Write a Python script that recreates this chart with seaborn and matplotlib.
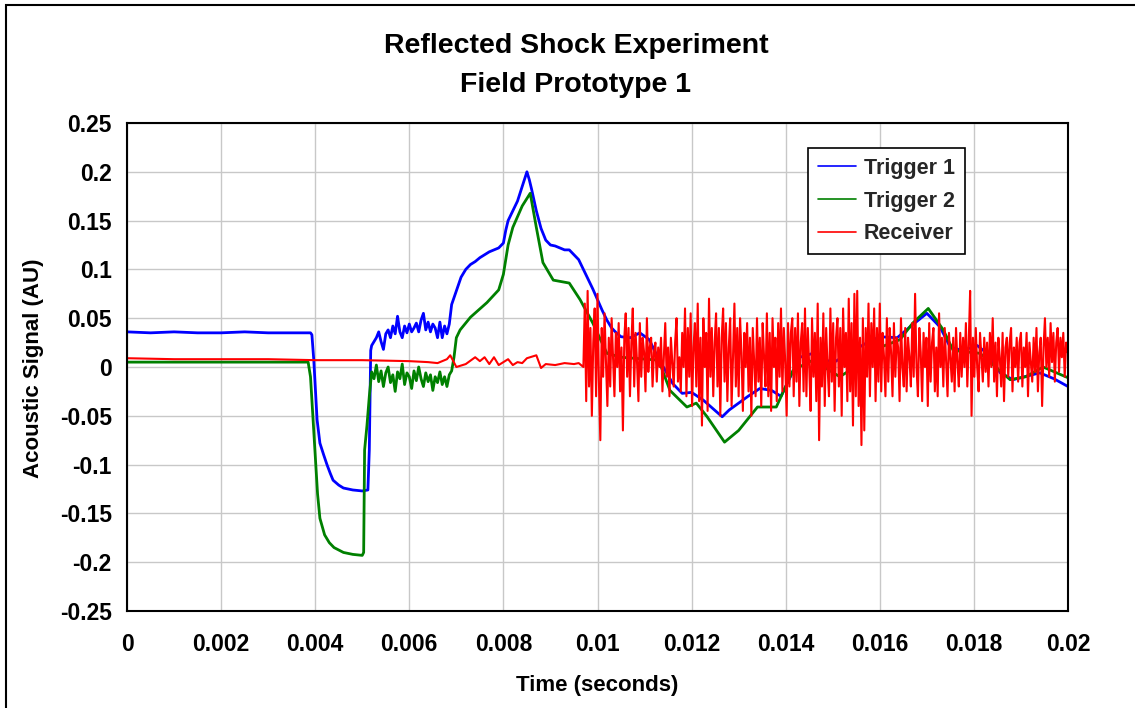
import numpy as np
import pandas as pd
import matplotlib
matplotlib.use("Agg")
import matplotlib.pyplot as plt
from matplotlib.patches import Rectangle
import seaborn as sns

# ---------------- data ----------------
title_lines = ["Reflected Shock Experiment", "Field Prototype 1"]
series_names = ["Trigger 1", "Trigger 2", "Receiver"]
x_ticks = [0, 0.002, 0.004, 0.006, 0.008, 0.01, 0.012, 0.014, 0.016, 0.018, 0.02]
x_tick_labels = ["0", "0.002", "0.004", "0.006", "0.008", "0.01", "0.012",
                 "0.014", "0.016", "0.018", "0.02"]
y_ticks = [0.25, 0.2, 0.15, 0.1, 0.05, 0, -0.05, -0.1, -0.15, -0.2, -0.25]
y_tick_labels = ["0.25", "0.2", "0.15", "0.1", "0.05", "0", "-0.05", "-0.1",
                 "-0.15", "-0.2", "-0.25"]

# Trigger 1 (blue)
t1_a = [0, 0.0005, 0.001, 0.0015, 0.002, 0.0025, 0.003, 0.0035, 0.0039,
        0.00393, 0.00397, 0.00404, 0.0041, 0.00418, 0.00425, 0.00432, 0.00438,
        0.0045, 0.0046, 0.0048, 0.0050, 0.00512, 0.00515, 0.00518, 0.0052]
v1_a = [0.036, 0.035, 0.036, 0.035, 0.035, 0.036, 0.035, 0.035, 0.035,
        0.033, 0.007, -0.054, -0.078, -0.09, -0.1, -0.109, -0.116,
        -0.121, -0.124, -0.126, -0.127, -0.126, -0.085, 0.017, 0.022]
t1_noise_start, t1_noise_stop = 0.0053, 0.00685
v1_noise = [0.030, 0.036, 0.026, 0.018, 0.034, 0.038, 0.030, 0.042, 0.034, 0.052,
            0.036, 0.030, 0.042, 0.035, 0.044, 0.036, 0.040, 0.045, 0.036, 0.048,
            0.055, 0.038, 0.046, 0.036, 0.044, 0.040, 0.030, 0.046, 0.030, 0.042,
            0.034, 0.044]
t1_b = [0.0069, 0.0070, 0.0071, 0.0072, 0.0073, 0.0074, 0.0075, 0.0076, 0.0077,
        0.0078, 0.0079, 0.0080, 0.00805, 0.0081, 0.0082, 0.0083, 0.0084, 0.0085,
        0.00855, 0.0086, 0.0087, 0.0088, 0.0089, 0.0090, 0.0091, 0.0092, 0.0093,
        0.0094, 0.0095, 0.0096, 0.0097, 0.0098, 0.0099, 0.0100, 0.0101, 0.0102,
        0.0103, 0.0104, 0.0105, 0.0107, 0.0109, 0.0111, 0.0113, 0.0114, 0.0116,
        0.0118, 0.0120, 0.01225, 0.01265, 0.0128, 0.0132, 0.01345, 0.0137, 0.0139,
        0.0141, 0.0143, 0.01458, 0.0150, 0.0152, 0.01573, 0.0160, 0.01637,
        0.01664, 0.0170, 0.01728, 0.0175, 0.01777, 0.01807, 0.01828, 0.01856,
        0.01883, 0.0194, 0.0197, 0.0200]
v1_b = [0.064, 0.078, 0.092, 0.100, 0.105, 0.108, 0.112, 0.115, 0.118,
        0.120, 0.122, 0.127, 0.140, 0.150, 0.160, 0.170, 0.185, 0.200,
        0.192, 0.182, 0.160, 0.142, 0.130, 0.125, 0.124, 0.122, 0.120,
        0.120, 0.115, 0.110, 0.100, 0.090, 0.080, 0.069, 0.058, 0.048,
        0.040, 0.035, 0.031, 0.030, 0.035, 0.028, 0.008, 0.000, -0.017,
        -0.027, -0.026, -0.034, -0.051, -0.044, -0.030, -0.022, -0.024, -0.030,
        -0.010, 0.010, 0.014, 0.004, 0.010, 0.025, 0.031, 0.030,
        0.041, 0.055, 0.041, 0.020, 0.017, 0.022, 0.014, -0.006,
        -0.013, -0.006, -0.012, -0.020]

# Trigger 2 (green)
t2_a = [0, 0.0005, 0.001, 0.0015, 0.002, 0.0025, 0.003, 0.0035, 0.00385,
        0.0039, 0.00395, 0.0040, 0.00405, 0.0041, 0.0042, 0.0043, 0.0044,
        0.0046, 0.0048, 0.0050, 0.00503, 0.00505, 0.0051, 0.00515]
v2_a = [0.005, 0.005, 0.005, 0.005, 0.005, 0.005, 0.005, 0.005, 0.005,
        -0.01, -0.05, -0.09, -0.13, -0.155, -0.172, -0.18, -0.185,
        -0.19, -0.192, -0.193, -0.19, -0.085, -0.06, -0.03]
t2_noise_start, t2_noise_stop = 0.0052, 0.0069
v2_noise = [-0.005, -0.012, 0.002, -0.015, -0.004, -0.020, -0.006, 0.000, -0.016,
            -0.008, -0.025, -0.005, -0.012, 0.003, -0.018, -0.006, -0.010, -0.022,
            -0.004, -0.014, 0.000, -0.012, -0.020, -0.006, -0.015, -0.008, -0.024,
            -0.010, -0.016, -0.005, -0.018, -0.010, -0.020, -0.008, -0.004]
t2_b = [0.00695, 0.0070, 0.00708, 0.0073, 0.00765, 0.0079, 0.0080, 0.0081,
        0.0082, 0.0084, 0.00857, 0.0087, 0.00884, 0.00906, 0.0094, 0.00963,
        0.0099, 0.0102, 0.0105, 0.0113, 0.01154, 0.0119, 0.0121, 0.01233,
        0.0127, 0.0130, 0.0134, 0.0138, 0.01416, 0.01458, 0.01515, 0.0156,
        0.0160, 0.01643, 0.0167, 0.01703, 0.01735, 0.01756, 0.01813, 0.01877,
        0.0191, 0.01947, 0.0200]
v2_b = [0.010, 0.030, 0.038, 0.051, 0.066, 0.079, 0.095, 0.125,
        0.143, 0.165, 0.178, 0.143, 0.107, 0.089, 0.086, 0.069,
        0.045, 0.014, 0.010, 0.007, -0.024, -0.041, -0.037, -0.051,
        -0.077, -0.065, -0.041, -0.041, -0.003, 0.007, -0.010, 0.004,
        0.020, 0.028, 0.045, 0.060, 0.038, 0.017, 0.014, -0.013,
        -0.010, 0.000, -0.011]

# Receiver (red)
t3_a = [0, 0.001, 0.002, 0.003, 0.004, 0.005, 0.006, 0.0064, 0.0066, 0.0068,
        0.00687, 0.0070, 0.0072, 0.0074, 0.0075, 0.0076, 0.0077, 0.0078, 0.0079,
        0.0080, 0.0081, 0.0082, 0.0083, 0.0084, 0.0085, 0.0087, 0.0088, 0.0089,
        0.0091, 0.0093, 0.0095, 0.0096]
v3_a = [0.009, 0.008, 0.008, 0.008, 0.007, 0.007, 0.006, 0.005, 0.004, 0.008,
        0.012, 0.000, 0.003, 0.010, 0.006, 0.010, 0.003, 0.010, 0.002,
        0.005, 0.008, 0.002, 0.005, 0.004, 0.009, 0.012, -0.001, 0.003,
        0.002, 0.004, 0.003, 0.004]
t3_noise_start, t3_noise_stop = 0.0097, 0.01999
v3_noise = [
    0.000, 0.065, -0.035, 0.078, -0.020, 0.040, -0.050, 0.025, 0.060, -0.030, 0.075, -0.015,
    -0.075, 0.040, -0.010, 0.055, 0.005, -0.040, 0.030, -0.020, 0.050, 0.010, -0.030, 0.035,
    0.000, 0.045, -0.025, 0.020, -0.065, 0.030, 0.055, -0.010, 0.040, -0.030, 0.025, 0.060,
    -0.020, 0.035, 0.005, -0.035, 0.045, -0.010, 0.030, 0.015, -0.025, 0.050, -0.005, 0.020,
    0.030, -0.020, 0.015, 0.025, -0.015, 0.020, 0.000, 0.030, -0.025, 0.010, 0.045, -0.010,
    0.020, -0.030, 0.030, 0.005, -0.020, 0.025, 0.050, -0.015, 0.010, -0.025, 0.035, 0.000,
    0.060, -0.030, 0.040, -0.010, 0.055, -0.040, 0.020, 0.045, -0.020, 0.065, -0.035, 0.030,
    -0.060, 0.050, 0.000, 0.035, -0.045, 0.070, -0.010, 0.040, -0.030, 0.025, 0.055, -0.020,
    0.040, -0.050, 0.030, 0.060, -0.015, 0.045, -0.035, 0.020, 0.050, -0.040, 0.010, 0.065,
    -0.020, 0.040, -0.030, 0.050, 0.015, -0.045, 0.035, 0.000, 0.045, -0.025, 0.030, -0.050,
    0.040, 0.005, -0.030, 0.050, -0.015, 0.030, -0.040, 0.045, 0.010, -0.020, 0.055, -0.030,
    0.035, -0.045, 0.050, 0.000, 0.030, -0.035, 0.045, -0.010, 0.060, -0.025, 0.040, 0.005,
    -0.050, 0.045, -0.020, 0.035, 0.050, -0.030, 0.040, -0.015, 0.055, -0.040, 0.025, 0.045,
    -0.025, 0.060, -0.030, 0.040, 0.000, -0.045, 0.050, -0.010, 0.035, -0.035, 0.065, -0.075,
    0.030, -0.020, 0.055, -0.040, 0.040, 0.000, -0.030, 0.060, -0.015, 0.045, -0.045, 0.030,
    0.050, -0.020, 0.040, -0.050, 0.060, 0.000, 0.035, -0.035, 0.070, -0.025, 0.045, -0.060,
    0.075, -0.030, 0.078, -0.040, 0.030, -0.080, 0.050, -0.065, 0.040, -0.010, 0.065, -0.030,
    0.045, 0.000, 0.060, -0.035, 0.040, -0.015, 0.065, -0.025, 0.035, 0.010, -0.030, 0.050,
    -0.015, 0.040, 0.015, -0.030, 0.045, -0.010, 0.030, 0.020, -0.035, 0.050, 0.000, -0.020,
    0.040, -0.025, 0.030, 0.010, -0.020, 0.045, -0.010, 0.075, 0.000, -0.030, 0.040, 0.015,
    -0.035, 0.035, 0.000, 0.030, -0.040, 0.045, -0.015, 0.025, 0.040, -0.025, 0.020, -0.030,
    0.055, 0.000, 0.030, -0.020, 0.040, 0.005, -0.030, 0.035, 0.010, -0.015, 0.030, -0.025,
    0.040, 0.005, -0.020, 0.035, -0.010, 0.030, 0.000, 0.045, -0.020, 0.025, 0.078, -0.050,
    0.030, -0.010, 0.040, 0.000, -0.025, 0.035, 0.010, -0.015, 0.030, -0.005, 0.025, -0.020,
    0.035, 0.000, 0.050, -0.015, 0.025, -0.030, 0.030, 0.010, -0.020, 0.035, -0.035, 0.020,
    0.030, -0.010, 0.025, 0.040, -0.025, 0.020, 0.000, 0.030, -0.015, 0.025, 0.035, -0.020,
    0.020, 0.000, 0.035, -0.030, 0.025, 0.005, -0.015, 0.030, -0.005, 0.040, -0.025, 0.015,
    0.030, -0.040, 0.020, 0.050, 0.000, 0.030, -0.010, 0.045, 0.005, 0.035, -0.015, 0.025,
    0.040, -0.005, 0.030, 0.010, 0.035, -0.010, 0.025, 0.015]

# ---------------- assemble series ----------------
def build(ta, va, start, stop, vn, tb, vb):
    tn = np.linspace(start, stop, len(vn))
    t = np.concatenate([ta, tn, tb])
    v = np.concatenate([va, vn, vb])
    return t, v

t1, v1 = build(t1_a, v1_a, t1_noise_start, t1_noise_stop, v1_noise, t1_b, v1_b)
t2, v2 = build(t2_a, v2_a, t2_noise_start, t2_noise_stop, v2_noise, t2_b, v2_b)
t3, v3 = build(t3_a, v3_a, t3_noise_start, t3_noise_stop, v3_noise, [], [])

frames = [pd.DataFrame({"t": t1, "v": v1, "s": series_names[0]}),
          pd.DataFrame({"t": t2, "v": v2, "s": series_names[1]}),
          pd.DataFrame({"t": t3, "v": v3, "s": series_names[2]})]
colors = ["#0000FF", "#008000", "#FF0000"]
widths = [2.0, 2.0, 1.5]

# ---------------- style ----------------
sns.set_theme(style="whitegrid")
plt.rcParams["font.family"] = ["Liberation Sans", "DejaVu Sans"]
plt.rcParams["font.weight"] = "bold"

W, H = 1135, 708
fig = plt.figure(figsize=(W / 100, H / 100), dpi=100)
fig.patch.set_facecolor("white")
L, R, T, B = 127, 1068, 123, 611
ax = fig.add_axes([L / W, 1 - B / H, (R - L) / W, (B - T) / H])
ax.set_facecolor("white")

for df, c, lw in zip(frames, colors, widths):
    sns.lineplot(data=df, x="t", y="v", color=c, linewidth=lw, ax=ax,
                 label=df["s"].iloc[0], sort=False, estimator=None)

ax.set_xlim(0, 0.02)
ax.set_ylim(-0.25, 0.25)
ax.set_xticks(x_ticks)
ax.set_xticklabels(x_tick_labels)
ax.set_yticks(y_ticks)
ax.set_yticklabels(y_tick_labels)
ax.grid(True, color="#c8c8c8", linewidth=1.0)
for sp in ax.spines.values():
    sp.set_color("black")
    sp.set_linewidth(1.5)
    sp.set_visible(True)
ax.tick_params(axis="both", direction="out", length=5, width=1.0, color="black",
               labelsize=16.5, labelcolor="black")
ax.tick_params(axis="x", pad=11)
ax.tick_params(axis="y", pad=6)
for lab in ax.get_xticklabels() + ax.get_yticklabels():
    lab.set_fontweight("bold")

ax.set_xlabel("Time (seconds)", fontsize=16, fontweight="bold", color="black")
ax.set_ylabel("Acoustic Signal (AU)", fontsize=16, fontweight="bold", color="black")
ax.xaxis.set_label_coords(0.5, -0.132)
ax.yaxis.set_label_coords(-0.088, 0.497)

leg = ax.legend(loc="upper left", bbox_to_anchor=((808 - L) / (R - L), (B - 148) / (B - T)),
                borderaxespad=0, frameon=True, fancybox=False, fontsize=15.5,
                handlelength=1.8, handletextpad=0.35, labelspacing=0.55,
                borderpad=0.45)
leg.get_frame().set_edgecolor("black")
leg.get_frame().set_linewidth(1.2)
leg.get_frame().set_alpha(1)
for txt in leg.get_texts():
    txt.set_fontweight("bold")
for hl in leg.get_lines():
    hl.set_linewidth(1.2)

fig.text(576 / W, 1 - 46 / H, title_lines[0], ha="center", va="center",
         fontsize=20.5, fontweight="bold", color="black")
fig.text(576 / W, 1 - 85 / H, title_lines[1], ha="center", va="center",
         fontsize=20.5, fontweight="bold", color="black")

fig.patches.append(Rectangle((6 / W, -0.05), 1.2, 1.05 - 4.5 / H, transform=fig.transFigure,
                             fill=False, edgecolor="black", linewidth=1.5))

fig.savefig("out.png", dpi=100, facecolor="white")
